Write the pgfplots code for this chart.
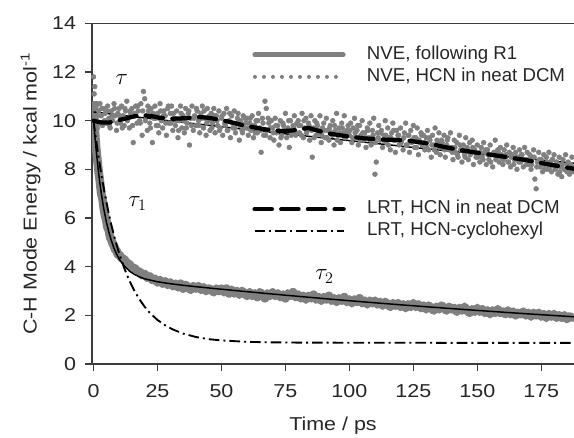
\documentclass[border=0pt]{standalone}
\usepackage{fontspec}
\setmainfont{Liberation Sans}
\newfontfamily\widesans[FakeStretch=1.15]{Liberation Sans}
\usepackage{pgfplots}
\pgfplotsset{compat=1.18}
\definecolor{dotgray}{RGB}{128,128,128}
\definecolor{axgray}{RGB}{60,60,60}
\newcommand{\fs}{\fontsize{14}{16.8}\selectfont}
\newcommand{\fw}{\widesans\fontsize{14}{16.8}\selectfont}
\pgfplotsset{
  common/.style={
    scale only axis, width=361.5pt, height=255.5pt,
    xmin=-0.6, xmax=187.8, ymin=0, ymax=14,
  },
}
\begin{document}
\begin{tikzpicture}
\begin{axis}[common,
  axis x line=bottom, axis y line=left,
  axis line style={-, axgray, line width=0.8pt},
  tick align=outside, major tick length=5pt,
  tick style={axgray, line width=0.8pt},
  xtick={0,25,...,175}, ytick={0,2,...,14},
  /pgf/number format/assume math mode=true,
  tick label style={font=\fw, text=black!85},
  xticklabel style={yshift=-7pt},
  yticklabel style={xshift=-3.5pt},
  xlabel={Time / ps}, ylabel={C-H Mode Energy / kcal mol\textsuperscript{-1}},
  label style={font=\fw, text=black!85},
  xlabel style={at={(axis description cs:0.5,0)}, anchor=center, yshift=-46pt},
  ylabel style={at={(axis description cs:0,0.5)}, anchor=center, yshift=46pt},
  legend image code/.code={\draw[#1] (1.9pt,0pt) -- (68pt,0pt);},
  legend style={draw=none, fill=none, inner sep=0pt, font=\fs, text=black!85,
    at={(axis cs:62,13.07)}, anchor=north west, row sep=3.5pt,
    nodes={inner sep=0pt, text height=10pt, text depth=3pt}},
  legend cell align=left,
]
\addlegendimage{line width=3.8pt, dotgray, line cap=round}
\addlegendentry{\hspace{16pt}NVE, following R1}
\addlegendimage{line width=3pt, dotgray, line cap=round, dash pattern=on 0pt off 6.75pt}
\addlegendentry{\hspace{16pt}NVE, HCN in neat DCM}

% NVE, HCN in neat DCM (scatter)
\addplot[only marks, mark=*, mark size=1.8pt, color=dotgray, forget plot] coordinates {
(0,11.8)(0.5,11.4)(1,10.6)(1.5,9.7)(2,10.4)(2.5,10.7)(3,10.2)(3.5,9.8)(4,10.5)(4.5,10.3)(5,9.9)(5.5,10.6)(6,10.1)(6.5,9.7)(7,10.4)(7.5,10.0)(8,10.7)(8.5,10.2)(9,9.6)(9.5,10.3)
(10,10.5)(10.5,9.9)(11,10.6)(11.5,10.2)(12,9.8)(12.5,10.4)(13,10.8)(13.5,10.1)(14,9.7)(14.5,10.3)(15,10.5)(15.5,9.1)(16,10.2)(16.5,10.6)(17,9.9)(17.5,10.4)(18,10.0)(18.5,10.7)(19,9.4)(19.5,11.2)
(20,10.9)(20.5,10.2)(21,9.6)(21.5,10.4)(22,9.9)(22.5,10.5)(23,9.1)(23.5,10.1)(24,10.6)(24.5,9.8)(25,10.3)(25.5,9.5)(26,10.7)(26.5,10.0)(27,9.7)(27.5,10.4)(28,10.2)(28.5,9.4)(29,10.5)(29.5,9.9)
(30,10.3)(30.5,10.6)(31,9.6)(31.5,10.1)(32,9.8)(32.5,10.4)(33,9.3)(33.5,10.0)(34,10.6)(34.5,9.7)(35,10.2)(35.5,9.5)(36,10.5)(36.5,9.9)(37,10.3)(37.5,9.0)(38,10.1)(38.5,10.6)(39,9.6)(39.5,10.2)
(40,9.8)(40.5,10.4)(41,10.0)(41.5,9.5)(42,10.3)(42.5,10.6)(43,9.7)(43.5,10.1)(44,9.4)(44.5,10.5)(45,10.0)(45.5,9.6)(46,10.3)(46.5,9.9)(47,10.5)(47.5,9.5)(48,10.2)(48.5,9.8)(49,10.4)(49.5,9.7)
(50,10.1)(50.5,9.4)(51,10.3)(51.5,9.8)(52,10.5)(52.5,9.6)(53,10.0)(53.5,9.3)(54,10.2)(54.5,9.7)(55,10.4)(55.5,9.5)(56,9.9)(56.5,10.3)(57,9.2)(57.5,10.0)(58,9.6)(58.5,10.2)(59,9.7)(59.5,9.9)
(60,10.1)(60.5,9.4)(61,9.9)(61.5,9.6)(62,10.2)(62.5,9.3)(63,9.8)(63.5,10.0)(64,9.5)(64.5,10.3)(65,9.7)(65.5,8.7)(66,10.1)(66.5,9.4)(67,10.8)(67.5,10.5)(68,9.6)(68.5,9.9)(69,9.3)(69.5,10.0)
(70,9.7)(70.5,9.2)(71,10.1)(71.5,9.5)(72,9.8)(72.5,9.0)(73,10.0)(73.5,9.4)(74,9.9)(74.5,9.6)(75,10.3)(75.5,9.3)(76,9.7)(76.5,8.9)(77,10.0)(77.5,9.5)(78,9.8)(78.5,10.2)(79,9.4)(79.5,9.9)
(80,10.0)(80.5,9.5)(81,9.8)(81.5,10.3)(82,9.3)(82.5,9.7)(83,10.1)(83.5,9.6)(84,9.9)(84.5,9.2)(85,10.2)(85.5,8.5)(86,9.7)(86.5,10.0)(87,9.4)(87.5,9.8)(88,9.5)(88.5,10.2)(89,9.1)(89.5,9.7)
(90,9.9)(90.5,9.3)(91,10.1)(91.5,9.6)(92,9.2)(92.5,9.8)(93,9.5)(93.5,10.0)(94,9.0)(94.5,9.6)(95,10.3)(95.5,9.4)(96,9.7)(96.5,9.1)(97,9.9)(97.5,9.5)(98,10.2)(98.5,9.3)(99,9.6)(99.5,9.8)
(100,9.4)(100.5,9.9)(101,9.1)(101.5,9.7)(102,10.1)(102.5,9.3)(103,9.6)(103.5,9.0)(104,9.8)(104.5,9.4)(105,10.0)(105.5,9.2)(106,9.5)(106.5,8.9)(107,9.7)(107.5,9.3)(108,9.9)(108.5,9.0)(109,9.6)(109.5,10.1)
(110,7.8)(110.5,8.3)(111,9.5)(111.5,9.8)(112,9.2)(112.5,9.6)(113,8.9)(113.5,9.4)(114,10.0)(114.5,9.1)(115,9.7)(115.5,9.3)(116,8.8)(116.5,9.5)(117,9.9)(117.5,9.2)(118,8.7)(118.5,9.6)(119,9.4)(119.5,9.0)
(120,9.7)(120.5,9.2)(121,8.8)(121.5,9.5)(122,9.9)(122.5,9.0)(123,9.4)(123.5,8.7)(124,9.6)(124.5,9.2)(125,9.8)(125.5,8.9)(126,9.3)(126.5,9.7)(127,8.6)(127.5,9.1)(128,9.5)(128.5,9.0)(129,9.4)(129.5,8.8)
(130,9.3)(130.5,9.6)(131,8.8)(131.5,9.2)(132,8.5)(132.5,9.4)(133,9.0)(133.5,9.7)(134,8.7)(134.5,9.1)(135,9.5)(135.5,8.6)(136,9.2)(136.5,8.9)(137,9.4)(137.5,8.5)(138,9.0)(138.5,9.3)(139,8.8)(139.5,9.5)
(140,8.9)(140.5,8.4)(141,9.2)(141.5,8.7)(142,9.1)(142.5,8.5)(143,9.4)(143.5,8.8)(144,8.3)(144.5,9.0)(145,8.6)(145.5,9.3)(146,8.9)(146.5,8.4)(147,9.1)(147.5,8.7)(148,9.2)(148.5,8.2)(149,8.8)(149.5,8.5)
(150,9.0)(150.5,8.6)(151,8.3)(151.5,8.9)(152,8.5)(152.5,9.1)(153,8.7)(153.5,8.2)(154,8.8)(154.5,8.4)(155,9.0)(155.5,8.6)(156,8.1)(156.5,8.7)(157,9.2)(157.5,8.5)(158,8.8)(158.5,8.3)(159,8.9)(159.5,8.6)
(160,8.2)(160.5,8.8)(161,8.5)(161.5,9.0)(162,8.3)(162.5,8.7)(163,8.1)(163.5,8.6)(164,8.9)(164.5,8.4)(165,8.7)(165.5,8.0)(166,8.5)(166.5,8.8)(167,8.3)(167.5,8.6)(168,8.1)(168.5,8.9)(169,8.4)(169.5,8.7)
(170,8.2)(170.5,8.6)(171,8.0)(171.5,8.5)(172,8.8)(172.5,7.6)(173,7.2)(173.5,8.3)(174,8.7)(174.5,8.1)(175,8.4)(175.5,7.9)(176,8.6)(176.5,8.2)(177,8.5)(177.5,8.0)(178,8.7)(178.5,8.3)(179,7.9)(179.5,8.4)
(180,8.6)(180.5,8.0)(181,8.3)(181.5,7.8)(182,8.5)(182.5,8.1)(183,7.7)(183.5,8.4)(184,8.0)(184.5,8.6)(185,7.9)(185.5,8.3)(186,7.8)(186.5,8.2)(187,8.5)(187.5,7.9)(188,8.1)
(0.25,11.1)(1.25,10.2)(2.25,9.9)(3.25,10.5)(4.25,10.0)(5.25,10.4)(6.25,9.8)(7.25,10.2)(8.25,10.5)(9.25,9.9)
(10.25,10.2)(11.25,9.7)(12.25,10.5)(13.25,10.0)(14.25,10.4)(15.25,9.8)(16.25,10.3)(17.25,10.6)(18.25,9.9)(19.25,10.4)
(20.25,10.0)(21.25,10.6)(22.25,9.7)(23.25,10.3)(24.25,10.1)(25.25,9.8)(26.25,10.4)(27.25,10.2)(28.25,9.9)(29.25,10.6)
(30.25,9.9)(31.25,10.3)(32.25,10.0)(33.25,9.6)(34.25,10.3)(35.25,10.0)(36.25,9.7)(37.25,10.4)(38.25,9.8)(39.25,10.1)
(40.25,10.5)(41.25,9.8)(42.25,10.1)(43.25,10.4)(44.25,9.9)(45.25,10.2)(46.25,9.7)(47.25,10.2)(48.25,10.0)(49.25,9.6)
(50.25,10.2)(51.25,9.9)(52.25,9.6)(53.25,10.3)(54.25,9.9)(55.25,9.7)(56.25,10.1)(57.25,9.8)(58.25,9.5)(59.25,10.1)
(60.25,9.7)(61.25,10.1)(62.25,9.8)(63.25,9.5)(64.25,10.0)(65.25,9.6)(66.25,9.9)(67.25,9.4)(68.25,10.1)(69.25,9.7)
(70.25,9.5)(71.25,9.8)(72.25,9.6)(73.25,9.3)(74.25,9.8)(75.25,9.6)(76.25,10.0)(77.25,9.4)(78.25,9.7)(79.25,9.5)
(80.25,9.8)(81.25,9.4)(82.25,10.0)(83.25,9.5)(84.25,9.8)(85.25,9.6)(86.25,9.3)(87.25,9.9)(88.25,9.6)(89.25,9.4)
(90.25,9.6)(91.25,9.3)(92.25,9.7)(93.25,9.4)(94.25,9.8)(95.25,9.2)(96.25,9.5)(97.25,9.7)(98.25,9.3)(99.25,9.5)
(100.25,9.6)(101.25,9.3)(102.25,9.5)(103.25,9.8)(104.25,9.2)(105.25,9.5)(106.25,9.3)(107.25,9.6)(108.25,9.2)(109.25,9.4)
(110.25,9.1)(111.25,9.3)(112.25,9.5)(113.25,9.2)(114.25,9.4)(115.25,9.0)(116.25,9.3)(117.25,9.6)(118.25,9.2)(119.25,9.4)
(120.25,9.1)(121.25,9.3)(122.25,9.0)(123.25,9.4)(124.25,9.1)(125.25,9.3)(126.25,8.9)(127.25,9.2)(128.25,9.4)(129.25,9.1)
(130.25,8.9)(131.25,9.3)(132.25,9.0)(133.25,8.8)(134.25,9.2)(135.25,8.9)(136.25,9.1)(137.25,8.8)(138.25,9.2)(139.25,8.9)
(140.25,8.7)(141.25,8.9)(142.25,8.6)(143.25,9.0)(144.25,8.8)(145.25,8.5)(146.25,8.8)(147.25,8.6)(148.25,8.9)(149.25,8.7)
(150.25,8.5)(151.25,8.7)(152.25,8.4)(153.25,8.8)(154.25,8.6)(155.25,8.3)(156.25,8.6)(157.25,8.4)(158.25,8.7)(159.25,8.5)
(160.25,8.4)(161.25,8.6)(162.25,8.3)(163.25,8.5)(164.25,8.2)(165.25,8.5)(166.25,8.3)(167.25,8.6)(168.25,8.4)(169.25,8.2)
(170.25,8.4)(171.25,8.2)(172.25,8.5)(173.25,8.1)(174.25,8.4)(175.25,8.2)(176.25,8.0)(177.25,8.3)(178.25,8.1)(179.25,8.4)
(180.25,8.1)(181.25,8.2)(182.25,7.9)(183.25,8.2)(184.25,8.0)(185.25,8.2)(186.25,7.9)(187.25,8.1)
};

% NVE, following R1 (thick gray band)
\addplot[dotgray, line width=6.5pt, line join=round, forget plot] coordinates {
(0,10.8)(0.5,9.6)(1,8.9)(1.5,8.4)(2,7.9)(2.5,7.5)(3,7.0)(3.5,6.8)(4,6.4)(4.5,6.1)(5,5.9)(5.5,5.6)(6,5.5)(6.5,5.2)(7,5.1)(7.5,4.95)(8,4.85)(8.5,4.7)(9,4.65)(9.5,4.5)(10,4.5)
(11,4.35)(12,4.3)(13,4.15)(14,4.1)(15,3.95)(16,3.95)(17,3.8)(18,3.8)(19,3.65)(20,3.7)(21,3.55)(22,3.6)(23,3.45)(24,3.5)(25,3.35)(26,3.45)(27,3.3)(28,3.4)(29,3.25)(30,3.35)
(31,3.2)(32,3.3)(33,3.15)(34,3.3)(35,3.1)(36,3.25)(37,3.15)(38,3.05)(39,3.2)(40,3.1)(41,3.2)(42,3.05)(43,3.15)(44,3.0)(45,3.1)(46,3.05)(47,2.95)(48,3.1)(49,3.0)(50,3.1)
(51,2.95)(52,3.1)(53,2.9)(54,3.05)(55,2.9)(56,3.0)(57,2.85)(58,3.0)(59,2.9)(60,2.8)(61,2.95)(62,2.8)(63,2.9)(64,2.75)(65,2.95)(66,2.85)(67,2.7)(68,2.9)(69,2.8)(70,2.95)
(71,2.8)(72,2.9)(73,2.75)(74,2.85)(75,2.7)(76,2.9)(77,2.8)(78,2.95)(79,2.75)(80,2.85)(81,2.7)(82,2.8)(83,2.65)(84,2.8)(85,2.7)(86,2.85)(87,2.65)(88,2.75)(89,2.6)(90,2.75)
(91,2.65)(92,2.8)(93,2.6)(94,2.7)(95,2.55)(96,2.7)(97,2.6)(98,2.75)(99,2.55)(100,2.65)(101,2.5)(102,2.65)(103,2.55)(104,2.7)(105,2.5)(106,2.6)(107,2.45)(108,2.6)(109,2.5)(110,2.6)
(111,2.45)(112,2.55)(113,2.4)(114,2.55)(115,2.45)(116,2.35)(117,2.5)(118,2.4)(119,2.5)(120,2.35)(121,2.45)(122,2.3)(123,2.45)(124,2.35)(125,2.5)(126,2.35)(127,2.45)(128,2.3)(129,2.4)(130,2.25)
(131,2.4)(132,2.3)(133,2.2)(134,2.35)(135,2.25)(136,2.4)(137,2.3)(138,2.2)(139,2.35)(140,2.25)(141,2.3)(142,2.15)(143,2.3)(144,2.2)(145,2.35)(146,2.2)(147,2.1)(148,2.25)(149,2.15)(150,2.3)
(151,2.15)(152,2.25)(153,2.1)(154,2.2)(155,2.05)(156,2.2)(157,2.1)(158,2.25)(159,2.1)(160,2.15)(161,2.05)(162,2.2)(163,2.05)(164,2.15)(165,2.0)(166,2.1)(167,2.05)(168,2.15)(169,2.0)(170,2.1)
(171,1.95)(172,2.1)(173,2.0)(174,2.1)(175,1.95)(176,2.05)(177,1.9)(178,2.05)(179,1.95)(180,2.05)(181,1.9)(182,2.0)(183,1.9)(184,2.0)(185,1.85)(186,1.95)(187,1.9)(188,1.95)
};

% fits (thin black)
\addplot[black, line width=1.1pt, forget plot] coordinates {
(0,10.36)(25,10.05)(50,9.75)(75,9.46)(100,9.18)(125,8.90)(150,8.64)(175,8.38)(188,8.25)
};
\addplot[black, line width=1.1pt, forget plot] coordinates {
(0,10.03)(0.5,9.40)(1,8.83)(1.5,8.32)(2,7.85)(2.5,7.42)(3,7.04)(3.5,6.70)(4,6.38)(5,5.85)(6,5.42)(7,5.06)(8,4.76)(9,4.52)(10,4.32)(12,4.03)(14,3.82)(16,3.68)(18,3.58)(20,3.50)(25,3.38)(30,3.30)(35,3.235)(40,3.177)(50,3.073)(60,2.972)(70,2.875)(80,2.781)(90,2.689)(100,2.601)(110,2.516)(120,2.433)(130,2.354)(140,2.276)(150,2.202)(160,2.130)(170,2.060)(180,1.992)(188,1.940)
};

\node[anchor=west, inner sep=0pt] at (axis cs:8.5,11.67) {\fontsize{17}{20}\selectfont$\tau$};
\node[anchor=west, inner sep=0pt] at (axis cs:13.5,6.6) {\fontsize{17}{20}\selectfont$\tau_1$};
\node[anchor=west, inner sep=0pt] at (axis cs:86.6,3.6) {\fontsize{17}{20}\selectfont$\tau_2$};
\end{axis}

\begin{axis}[common, hide axis,
  legend image code/.code={\draw[#1] (1.6pt,0pt) -- (68.4pt,0pt);},
  legend style={draw=none, fill=none, inner sep=0pt, font=\fs, text=black!85,
    at={(axis cs:62,6.73)}, anchor=north west, row sep=3.5pt,
    nodes={inner sep=0pt, text height=10pt, text depth=3pt}},
  legend cell align=left,
]
\addplot[black, line width=3.2pt, line cap=round, dash pattern=on 13pt off 7pt] coordinates {
(0,10.0)(1,9.97)(3,9.93)(6,9.92)(9,10.0)(13,10.1)(16,10.18)(19,10.22)(22,10.2)(26,10.12)(31,10.08)(36,10.1)(41,10.15)(44,10.13)(47,10.08)(51,10.0)(54,9.93)(57,9.85)(60,9.78)(63,9.72)(66,9.66)(70,9.6)(74,9.57)(78,9.6)(84,9.7)(88,9.58)(92,9.47)(99,9.36)(106,9.27)(114,9.22)(122,9.19)(127,9.12)(131,9.06)(137,8.92)(143,8.8)(150,8.68)(156,8.59)(163,8.48)(169,8.38)(176,8.24)(183,8.11)(188,8.02)
};
\addlegendentry{\hspace{16pt}LRT, HCN in neat DCM}
\addplot[black, line width=1.4pt, dash pattern=on 8pt off 3pt on 1.5pt off 3pt] coordinates {
(0,10.0)(1,9.21)(2,8.48)(3,7.82)(4,7.22)(5,6.67)(6,6.16)(7,5.70)(8,5.28)(9,4.90)(10,4.55)(12,3.94)(14,3.43)(16,3.00)(18,2.65)(20,2.35)(22,2.10)(25,1.81)(28,1.59)(31,1.42)(35,1.25)(40,1.11)(45,1.02)(50,0.97)(60,0.91)(70,0.89)(80,0.88)(100,0.875)(140,0.87)(188,0.87)
};
\addlegendentry{\hspace{16pt}LRT, HCN-cyclohexyl}
\end{axis}
\draw[axgray, line width=0.8pt] (current axis.north west) -- (current axis.north east);
\pgfresetboundingbox
\path ([xshift=-69pt,yshift=-54.75pt]current axis.south west) rectangle ([yshift=17.5pt]current axis.north east);
\end{tikzpicture}
\end{document}
